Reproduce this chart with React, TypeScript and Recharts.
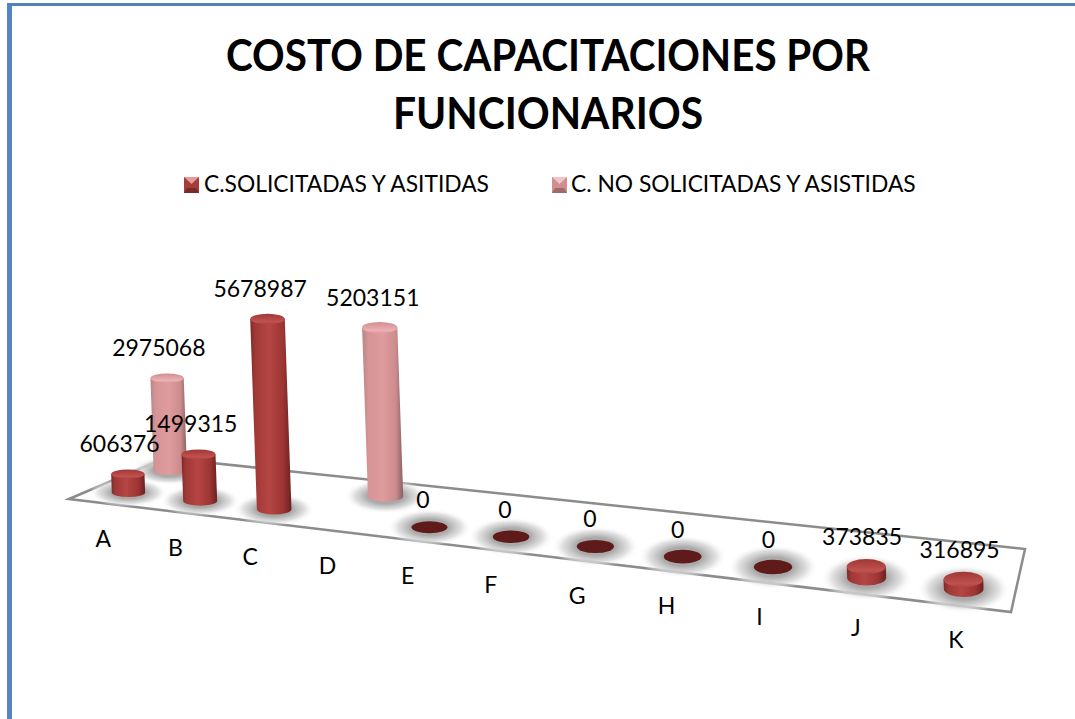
import { BarChart, Bar, XAxis, YAxis, LabelList } from "recharts";

const categories = ["A", "B", "C", "D", "E", "F", "G", "H", "I", "J", "K"];
const solicitadas = [606376, 1499315, 5678987, null, 0, 0, 0, 0, 0, 373835, 316895];
const noSolicitadas = [2975068, null, null, 5203151, null, null, null, null, null, null, null];
const seriesNames = ["C.SOLICITADAS Y ASITIDAS", "C. NO SOLICITADAS Y ASISTIDAS"];

const data = categories.map((name, i) => ({ name, solicitadas: solicitadas[i], noSolicitadas: noSolicitadas[i] }));

const WIDTH = 1075;
const HEIGHT = 719;
const PLOT_LEFT = 70;
const PLOT_WIDTH = 942;
const PLOT_TOP = 300;
const PLOT_HEIGHT = 180;
const FONT = "Lato, sans-serif";

// the flat plot is tilted onto the floor of the 3D chart: s runs along the categories, t into the depth
const project = (s: number, t: number) => {
  const front = (748.8 * s + 93.3) / (1 - 0.169 * s);
  return { x: front + t * (43 - 25 * s), y: 477.6 + 0.1157 * front - 22 * t };
};
const toS = (x: number) => (x - PLOT_LEFT) / PLOT_WIDTH;
// tall columns come closer to the camera, the back row is a little smaller
const lift = (height: number, t: number) => {
  const h = Math.abs(height) || 0;
  return h * (1 + 0.00069 * h) * (1 - 0.025 * t);
};
const LEAN = 0.035;

const Cylinder = (props: any) => {
  const { x, width, height, value, depth, body, top } = props;
  if (value == null || (Array.isArray(value) && value[1] == null)) return null;
  const s = toS(x + width / 2);
  const base = project(s, depth);
  const rx = 16.5 + 3.5 * s;
  const ry = 4.5 + 3.5 * s;
  const h = lift(height, depth);
  const tx = base.x - h * LEAN;
  const ty = base.y - h;
  const shadow = <ellipse cx={base.x} cy={base.y} rx={rx * 2.35} ry={ry * 3.1} fill="url(#floorShadow)" />;
  if (h < 1) {
    return (
      <g>
        {shadow}
        <ellipse cx={base.x} cy={base.y} rx={rx} ry={ry} fill="#5e1b1a" />
      </g>
    );
  }
  return (
    <g>
      {shadow}
      <path
        d={`M${base.x - rx} ${base.y} L${tx - rx} ${ty} L${tx + rx} ${ty} L${base.x + rx} ${base.y} A${rx} ${ry} 0 0 1 ${base.x - rx} ${base.y} Z`}
        fill={`url(#${body})`}
      />
      <ellipse cx={tx} cy={ty} rx={rx} ry={ry} fill={`url(#${top})`} />
    </g>
  );
};

const ValueLabel = (props: any) => {
  const { value, depth } = props;
  const box = props.viewBox ?? props;
  if (value == null) return null;
  const s = toS(box.x + box.width / 2);
  const base = project(s, depth);
  const h = lift(box.height, depth);
  return (
    <text
      x={base.x - h * LEAN - 8.5 + 5 * s}
      y={base.y - h - (h < 1 ? 19 : 22)}
      textAnchor="middle"
      fontFamily={FONT}
      fontSize={23}
      fill="#000"
    >
      {value}
    </text>
  );
};

const CategoryTick = ({ x, payload }: any) => {
  const s = toS(x);
  const p = project(s, 0);
  return (
    <text
      x={p.x - 25 + 19 * s - 18 * s * (1 - s)}
      y={p.y + 54.5 + 4.5 * s}
      textAnchor="middle"
      fontFamily={FONT}
      fontSize={23}
      fill="#000"
    >
      {payload.value}
    </text>
  );
};

const Defs = () => (
  <defs>
    <linearGradient id="redBody" x1="0" x2="1" y1="0" y2="0">
      <stop offset="0" stopColor="#7d2a29" />
      <stop offset="0.12" stopColor="#a03836" />
      <stop offset="0.45" stopColor="#b54644" />
      <stop offset="0.8" stopColor="#9c3533" />
      <stop offset="1" stopColor="#6b2120" />
    </linearGradient>
    <linearGradient id="redTop" x1="0" x2="0" y1="0" y2="1">
      <stop offset="0" stopColor="#a03735" />
      <stop offset="0.75" stopColor="#c0514e" />
      <stop offset="1" stopColor="#ad4341" />
    </linearGradient>
    <linearGradient id="pinkBody" x1="0" x2="1" y1="0" y2="0">
      <stop offset="0" stopColor="#ba8486" />
      <stop offset="0.15" stopColor="#d69496" />
      <stop offset="0.5" stopColor="#e09b9d" />
      <stop offset="0.82" stopColor="#cc8c8e" />
      <stop offset="1" stopColor="#8a5f60" />
    </linearGradient>
    <linearGradient id="pinkTop" x1="0" x2="0" y1="0" y2="1">
      <stop offset="0" stopColor="#d08e90" />
      <stop offset="0.75" stopColor="#ebb0b2" />
      <stop offset="1" stopColor="#dd9c9e" />
    </linearGradient>
    <radialGradient id="floorShadow">
      <stop offset="0" stopColor="#a0a0a0" />
      <stop offset="0.45" stopColor="#ababab" />
      <stop offset="0.75" stopColor="#d8d8d8" stopOpacity="0.8" />
      <stop offset="1" stopColor="#ffffff" stopOpacity="0" />
    </radialGradient>
  </defs>
);

const Floor = () => (
  <polygon points="69,499 165,458 1025,549 1011,612" fill="#fff" stroke="#8c8c8c" strokeWidth={2.5} strokeLinejoin="miter" />
);

const Title = () => (
  <g textAnchor="middle" fontFamily={FONT} fontSize={43} fontWeight={700} fill="#000">
    <text x={548} y={71} textLength={644} lengthAdjust="spacingAndGlyphs">COSTO DE CAPACITACIONES POR</text>
    <text x={548} y={129} textLength={310} lengthAdjust="spacingAndGlyphs">FUNCIONARIOS</text>
  </g>
);

const Marker = ({ x, y, light, dark, mid }: any) => (
  <g>
    <rect x={x} y={y} width={15} height={16} fill={mid} />
    <polygon points={`${x},${y} ${x + 15},${y} ${x + 7.5},${y + 7}`} fill={light} />
    <polygon points={`${x},${y + 16} ${x + 15},${y + 16} ${x + 12},${y + 11} ${x + 3},${y + 11}`} fill={dark} />
  </g>
);

const LegendRow = () => (
  <g fontFamily={FONT} fontSize={22.8} fill="#000">
    <Marker x={184} y={177} light="#e89a98" mid="#a33c3a" dark="#7a2a29" />
    <text x={204} y={192}>{seriesNames[0]}</text>
    <Marker x={552} y={177} light="#f2c4c4" mid="#cf8f90" dark="#a06a6b" />
    <text x={571} y={192}>{seriesNames[1]}</text>
  </g>
);

export default function App() {
  return (
    <div style={{ position: "absolute", left: 0, top: 0, width: WIDTH, height: HEIGHT, background: "#fff", overflow: "hidden" }}>
      <div
        style={{
          position: "absolute",
          left: 7,
          top: 3,
          width: WIDTH - 7,
          height: HEIGHT - 3,
          boxSizing: "border-box",
          borderLeft: "5px solid #5585c2",
          borderTop: "3px solid #4f81bd",
        }}
      />
      <div style={{ position: "absolute", left: 0, top: 0 }}>
        <BarChart
          width={WIDTH}
          height={HEIGHT}
          data={data}
          barSize={20}
          barGap={-20}
          margin={{ top: PLOT_TOP, left: PLOT_LEFT, right: WIDTH - PLOT_LEFT - PLOT_WIDTH, bottom: HEIGHT - PLOT_TOP - PLOT_HEIGHT - 20 }}
        >
          <Defs />
          <Title />
          <LegendRow />
          <Floor />
          <XAxis dataKey="name" height={20} axisLine={false} tickLine={false} interval={0} tick={<CategoryTick />} />
          <YAxis hide domain={[0, 6000000]} />
          <Bar
            dataKey="noSolicitadas"
            name={seriesNames[1]}
            isAnimationActive={false}
            shape={(p: any) => <Cylinder {...p} depth={1} body="pinkBody" top="pinkTop" />}
          >
            <LabelList dataKey="noSolicitadas" content={(p: any) => <ValueLabel {...p} depth={1} />} />
          </Bar>
          <Bar
            dataKey="solicitadas"
            name={seriesNames[0]}
            isAnimationActive={false}
            shape={(p: any) => <Cylinder {...p} depth={0} body="redBody" top="redTop" />}
          >
            <LabelList dataKey="solicitadas" content={(p: any) => <ValueLabel {...p} depth={0} />} />
          </Bar>
        </BarChart>
      </div>
    </div>
  );
}
